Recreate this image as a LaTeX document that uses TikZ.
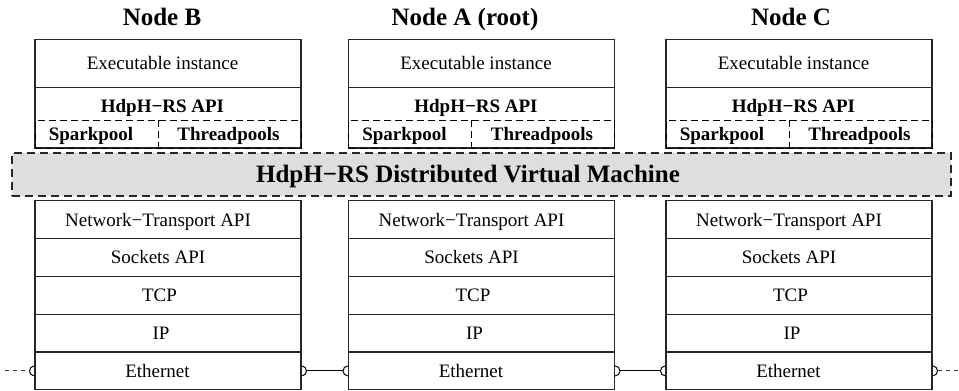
\documentclass[tikz,border=0pt]{standalone}
\usepackage{fontspec}
\setmainfont{Liberation Serif}
\begin{document}
\begin{tikzpicture}[x=1pt,y=-1pt,
  boxline/.style={draw=black!85, line width=1.1pt},
  layer/.style={boxline, minimum width=266pt, minimum height=37.8pt, inner sep=0pt},
  outerbox/.style={boxline, minimum width=266pt, inner sep=0pt},
  plaintext/.style={inner sep=0pt, font=\fontsize{19}{22}\selectfont, text height=12.6pt, text depth=0pt},
  boldtext/.style={plaintext, font=\fontsize{19}{22}\selectfont\bfseries},
  poolbox/.style={draw=black, line width=1pt, dash pattern=on 7pt off 4pt, minimum width=266pt, minimum height=27.5pt, inner sep=0pt},
  innerdash/.style={draw=black, line width=1pt, dash pattern=on 7pt off 4pt},
  titletext/.style={inner sep=0pt, font=\fontsize{25}{28}\selectfont\bfseries, text height=16.5pt, text depth=0pt},
  vmband/.style={draw=black!85, line width=1.1pt, dash pattern=on 8pt off 5pt, fill=black!13,
    minimum width=939pt, minimum height=43pt, inner sep=0pt},
  bandtext/.style={inner sep=0pt, font=\fontsize{25}{28}\selectfont\bfseries, text height=16.5pt, text depth=0pt},
  wire/.style={draw=black, line width=1.1pt},
  dashwire/.style={draw=black!80, line width=1pt, dash pattern=on 4pt off 4pt},
  socket/.style={draw=black, line width=1pt}
]
\useasboundingbox (0,0) rectangle (959,391);

% #1 name, #2 column centre, #3 title, #4 title centre
\newcommand\stackcol[4]{%
  \node[titletext] (#1-title) at (#4,17.7) {#3};
  \node[outerbox, minimum height=108.5pt] (#1-top) at (#2,93.75) {};
  \node[layer, minimum height=47.8pt] (#1-exe) at (#2,63.4) {};
  \node[plaintext] (#1-exetext) at ([xshift=-5.5pt]#1-exe.center) {Executable instance};
  \node[boldtext] (#1-api) at (#2-5.5,106.4) {HdpH−RS API};
  \node[poolbox] (#1-pools) at (#2,134.25) {};
  \draw[innerdash] ([xshift=123.5pt]#1-pools.north west) -- ([xshift=123.5pt]#1-pools.south west);
  \node[boldtext] (#1-spark) at ([xshift=56.5pt]#1-pools.west) {Sparkpool};
  \node[boldtext] (#1-thread) at ([xshift=194pt]#1-pools.west) {Threadpools};
  \node[layer] (#1-nt) at (#2,219.7) {};
  \node[plaintext] at ([xshift=-10pt]#1-nt.center) {Network−Transport API};
  \node[layer] (#1-sock) at (#2,257.5) {};
  \node[plaintext] at ([xshift=-10pt]#1-sock.center) {Sockets API};
  \node[layer] (#1-tcp) at (#2,295.3) {};
  \node[plaintext] at ([xshift=-8.5pt]#1-tcp.center) {TCP};
  \node[layer] (#1-ip) at (#2,333.1) {};
  \node[plaintext] at ([xshift=-7pt]#1-ip.center) {IP};
  \node[layer] (#1-eth) at (#2,370.9) {};
  \node[plaintext] at ([xshift=-10.5pt]#1-eth.center) {Ethernet};
  \draw[socket] ([yshift=5pt]#1-eth.west) arc[start angle=90, end angle=270, radius=5pt];
  \draw[socket] ([yshift=-5pt]#1-eth.east) arc[start angle=-90, end angle=90, radius=5pt];
}

\stackcol{B}{168}{Node B}{162}
\stackcol{A}{481.5}{Node A (root)}{465}
\stackcol{C}{799}{Node C}{791}

\node[vmband] (vm) at (481.5,174.5) {};
\node[bandtext] (vmtext) at (468,174.5) {HdpH−RS Distributed Virtual Machine};

\coordinate (leftend) at (5,370.9);
\coordinate (rightend) at (959,370.9);
\draw[dashwire] (leftend) -- ([xshift=-5pt]B-eth.west);
\draw[wire] ([xshift=5pt]B-eth.east) -- ([xshift=-5pt]A-eth.west);
\draw[wire] ([xshift=5pt]A-eth.east) -- ([xshift=-5pt]C-eth.west);
\draw[dashwire] ([xshift=5pt]C-eth.east) -- (rightend);
\end{tikzpicture}
\end{document}
